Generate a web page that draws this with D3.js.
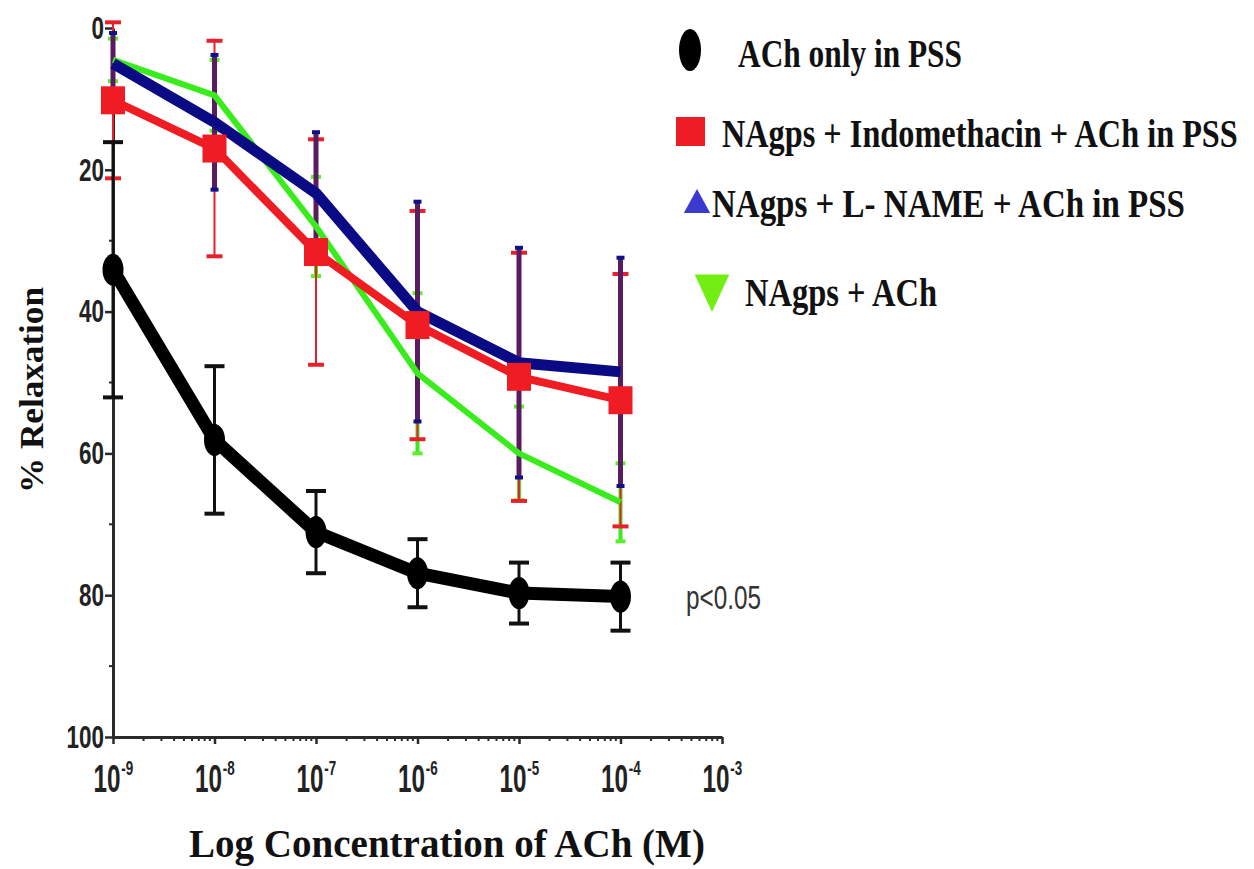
<!DOCTYPE html>
<html>
<head>
<meta charset="utf-8">
<script src="https://cdn.jsdelivr.net/npm/d3@7"></script>
<style>
  body { margin: 0; background: #fff; }
  svg { display: block; }
</style>
</head>
<body>
<div id="chart"></div>
<script>
// concentrations of ACh (M)
const conc = [1e-9, 1e-8, 1e-7, 1e-6, 1e-5, 1e-4];

// % relaxation, mean and error for each group
const achOnly    = [34.1, 58.1, 71.1, 76.9, 79.7, 80.2];
const achOnlyErr = [18.0, 10.4, 5.8, 4.8, 4.3, 4.8];
const indo       = [10.2, 17.0, 31.6, 41.9, 49.2, 52.5];
const indoErr    = [11.0, 15.2, 15.9, 16.1, 17.5, 17.8];
const lname      = [5.0, 13.3, 23.3, 40.0, 47.2, 48.5];
const lnameErr   = [4.3, 9.5, 8.6, 15.5, 16.2, 16.1];
const nagps      = [4.5, 9.5, 28.0, 48.7, 60.0, 66.9];
const nagpsErr   = [3.0, 5.0, 7.0, 11.3, 6.6, 5.5];

const yMajor = [0, 20, 40, 60, 80, 100];
const yMinor = [10, 30, 50, 70, 90];
const xMajor = [1e-9, 1e-8, 1e-7, 1e-6, 1e-5, 1e-4, 1e-3];

const legendLabels = [
  "ACh only in PSS",
  "NAgps + Indomethacin + ACh in PSS",
  "NAgps + L- NAME + ACh in PSS",
  "NAgps + ACh"
];

const W = 1254, H = 869;
const svg = d3.select("#chart").append("svg").attr("width", W).attr("height", H);

const x = d3.scaleLog().domain([1e-9, 1e-3]).range([113, 722]);
const y = d3.scaleLinear().domain([0, 100]).range([28, 737]);

const axisColor = "#2a2a2a";
const sans = "Liberation Sans, Arial, sans-serif";
const serif = "Liberation Serif, Times New Roman, serif";

// squeeze a text horizontally to a given width (the source font is condensed)
function squeeze(sel, w, ax) {
  sel.each(function() {
    const n = this.getComputedTextLength();
    const k = w / n;
    d3.select(this).attr("transform",
      `translate(${ax},0) scale(${k},1) translate(${-ax},0)`);
  });
}

// ---- y axis
const yAxisG = svg.append("g").attr("transform", "translate(113,0)")
  .call(d3.axisLeft(y).tickValues(yMajor).tickSize(8).tickSizeOuter(0));
yAxisG.select(".domain").attr("stroke", axisColor).attr("stroke-width", 3);
yAxisG.selectAll(".tick line").attr("stroke", axisColor).attr("stroke-width", 2.5);
yAxisG.selectAll(".tick text")
  .attr("x", -9)
  .attr("font-family", sans)
  .attr("font-weight", "bold")
  .attr("font-size", 32)
  .attr("fill", "#222")
  .each(function(d) { squeeze(d3.select(this), String(d).length * 12.5, -9); });
yAxisG.append("g").selectAll("line").data(yMinor).join("line")
  .attr("x1", -4).attr("x2", 0)
  .attr("y1", d => y(d)).attr("y2", d => y(d))
  .attr("stroke", axisColor).attr("stroke-width", 2);

// ---- x axis
const xMinor = [];
xMajor.slice(0, -1).forEach(dec => { for (let k = 2; k <= 9; k++) xMinor.push(dec * k); });

const xAxisG = svg.append("g").attr("transform", "translate(0,737)")
  .call(d3.axisBottom(x).tickValues(xMajor).tickSize(7).tickSizeOuter(0).tickFormat(""));
xAxisG.select(".domain").attr("stroke", axisColor).attr("stroke-width", 3);
xAxisG.selectAll(".tick line").attr("stroke", axisColor).attr("stroke-width", 2.5);
xAxisG.append("g").selectAll("line").data(xMinor).join("line")
  .attr("x1", d => x(d)).attr("x2", d => x(d))
  .attr("y1", 0).attr("y2", 4)
  .attr("stroke", axisColor).attr("stroke-width", 2);

xAxisG.selectAll(".tick").each(function(d) {
  const e = Math.round(Math.log10(d));
  const t = d3.select(this).append("text")
    .attr("x", -20).attr("y", 55)
    .attr("text-anchor", "start")
    .attr("font-family", sans)
    .attr("font-weight", "bold")
    .attr("font-size", 38)
    .attr("fill", "#222");
  t.append("tspan").text("10");
  t.append("tspan").attr("dy", -17).attr("dx", 1).attr("font-size", 21).text("-" + Math.abs(e));
  squeeze(t, 39, -20);
});

// ---- axis titles
svg.append("text")
  .attr("transform", "translate(43,390) rotate(-90)")
  .attr("text-anchor", "middle")
  .attr("font-family", serif)
  .attr("font-weight", "bold")
  .attr("font-size", 33)
  .attr("fill", "#111")
  .attr("textLength", 206).attr("lengthAdjust", "spacingAndGlyphs")
  .text("% Relaxation");

svg.append("text")
  .attr("x", 447).attr("y", 857)
  .attr("text-anchor", "middle")
  .attr("font-family", serif)
  .attr("font-weight", "bold")
  .attr("font-size", 41)
  .attr("fill", "#111")
  .text("Log Concentration of ACh (M)")
  .call(squeeze, 516, 447);

// ---- series
const series = [
  {name: "nagps", mean: nagps, err: nagpsErr, color: "#39ec1c", width: 6,
   barColor: "#3ee81e", barWidth: 4, capColor: "#5cf02a", capW: 10},
  {name: "indo",  mean: indo,  err: indoErr,  color: "#f01c24", width: 8,
   barColor: "#e8202c", barWidth: 2, capColor: "#e8202c", capW: 16},
  {name: "lname", mean: lname, err: lnameErr, color: "#0a0a84", width: 11,
   barColor: "#5a1c60", barWidth: 5, capColor: "#10108a", capW: 8},
  {name: "ach",   mean: achOnly, err: achOnlyErr, color: "#000", width: 13,
   barColor: "#111", barWidth: 3, capColor: "#111", capW: 20}
];
const lineOrder = ["nagps", "lname", "indo", "ach"];
const byName = Object.fromEntries(series.map(s => [s.name, s]));

const pts = s => conc.map((c, i) => ({c, v: s.mean[i], e: s.err[i]}));

// error bars under the lines
const errG = svg.append("g");
series.forEach(s => {
  const g = errG.append("g");
  const p = pts(s);
  g.selectAll("line.bar").data(p).join("line").attr("class", "bar")
    .attr("x1", d => x(d.c)).attr("x2", d => x(d.c))
    .attr("y1", d => y(d.v - d.e)).attr("y2", d => y(d.v + d.e))
    .attr("stroke", s.barColor).attr("stroke-width", s.barWidth);
  [-1, 1].forEach(sg => {
    g.selectAll("line.cap" + (sg > 0 ? "p" : "m")).data(p).join("line")
      .attr("class", "cap" + (sg > 0 ? "p" : "m"))
      .attr("x1", d => x(d.c) - s.capW / 2).attr("x2", d => x(d.c) + s.capW / 2)
      .attr("y1", d => y(d.v + sg * d.e)).attr("y2", d => y(d.v + sg * d.e))
      .attr("stroke", s.capColor).attr("stroke-width", 4);
  });
});

const line = d3.line().x(d => x(d.c)).y(d => y(d.v));
lineOrder.forEach(n => {
  const s = byName[n];
  svg.append("path").datum(pts(s))
    .attr("d", line)
    .attr("fill", "none")
    .attr("stroke", s.color)
    .attr("stroke-width", s.width)
    .attr("stroke-linejoin", "round");
});

// markers
svg.append("g").selectAll("rect").data(pts(byName.indo)).join("rect")
  .attr("x", d => x(d.c) - 12).attr("y", d => y(d.v) - 14)
  .attr("width", 24).attr("height", 28)
  .attr("fill", "#f01c24");

svg.append("g").selectAll("ellipse").data(pts(byName.ach)).join("ellipse")
  .attr("cx", d => x(d.c)).attr("cy", d => y(d.v))
  .attr("rx", 10.5).attr("ry", 16)
  .attr("fill", "#000");

// p value note
svg.append("text")
  .attr("x", 686).attr("y", 609)
  .attr("font-family", sans)
  .attr("font-size", 34)
  .attr("fill", "#333")
  .text("p<0.05")
  .call(squeeze, 75, 686);

// ---- legend
const leg = svg.append("g");
leg.append("ellipse").attr("cx", 690).attr("cy", 50).attr("rx", 11).attr("ry", 21).attr("fill", "#000");
leg.append("rect").attr("x", 676).attr("y", 117).attr("width", 29).attr("height", 29).attr("fill", "#ee1c25");
leg.append("path")
  .attr("d", d3.symbol(d3.symbolTriangle, 300)())
  .attr("transform", "translate(697,205) scale(1,1.05)")
  .attr("fill", "#3a3ad0");
leg.append("path")
  .attr("d", d3.symbol(d3.symbolTriangle, 520)())
  .attr("transform", "translate(712,287) rotate(180) scale(1,1.25)")
  .attr("fill", "#72ee12");

const legText = [
  {x: 738, y: 67, w: 224},
  {x: 722, y: 147, w: 516},
  {x: 712, y: 217, w: 473},
  {x: 745, y: 306, w: 192}
];
leg.selectAll("text.lab").data(legendLabels).join("text").attr("class", "lab")
  .attr("x", (d, i) => legText[i].x).attr("y", (d, i) => legText[i].y)
  .attr("font-family", serif)
  .attr("font-weight", "bold")
  .attr("font-size", 41)
  .attr("fill", "#111")
  .text(d => d)
  .each(function(d, i) { squeeze(d3.select(this), legText[i].w, legText[i].x); });
</script>
</body>
</html>
